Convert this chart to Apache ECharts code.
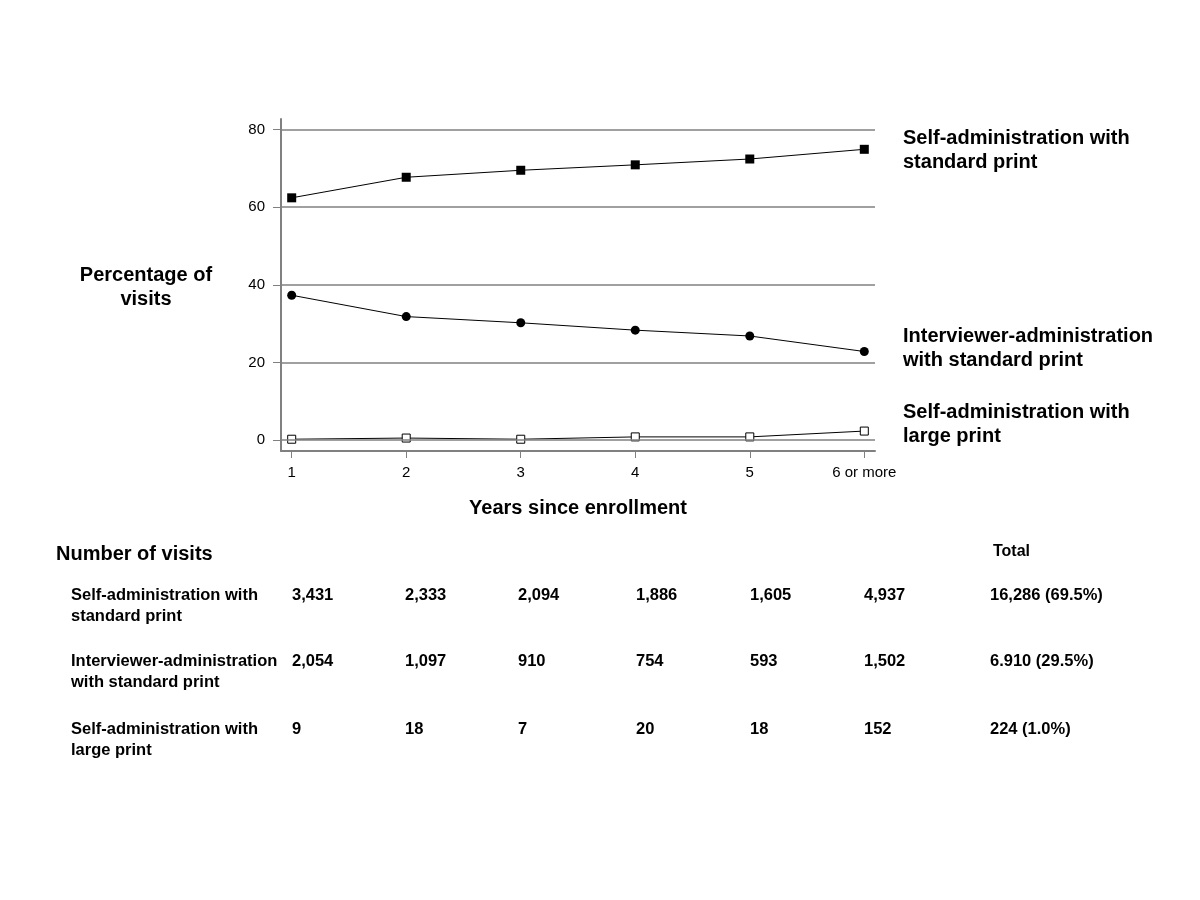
<!DOCTYPE html>
<html>
<head>
<meta charset="utf-8">
<script src="https://cdn.jsdelivr.net/npm/echarts@6/dist/echarts.min.js"></script>
<style>html,body{margin:0;padding:0;background:#fff;}#c{width:1200px;height:900px;}</style>
</head>
<body>
<div id="c"></div>
<script>
var years = [1, 2, 3, 4, 5, 6];
var yearLabels = ['1', '2', '3', '4', '5', '6 or more'];
var yTicks = [0, 20, 40, 60, 80];
var selfStd = [62.4, 67.7, 69.5, 70.9, 72.4, 74.9];
var interStd = [37.3, 31.8, 30.2, 28.3, 26.8, 22.8];
var selfLarge = [0.2, 0.5, 0.2, 0.8, 0.8, 2.3];
var seriesNames = ['Self-administration with\nstandard print', 'Interviewer-administration\nwith standard print', 'Self-administration with\nlarge print'];
var rowLabels = ['Self-administration with\nstandard print', 'Interviewer-administration\nwith standard print', 'Self-administration with\nlarge print'];
var countsSelfStd = ['3,431', '2,333', '2,094', '1,886', '1,605', '4,937'];
var countsInterStd = ['2,054', '1,097', '910', '754', '593', '1,502'];
var countsSelfLarge = ['9', '18', '7', '20', '18', '152'];
var totals = ['16,286 (69.5%)', '6.910 (29.5%)', '224 (1.0%)'];

var FONT = "'Liberation Sans', Arial, sans-serif";
var chart = echarts.init(document.getElementById('c'));

function pairs(vals) { return years.map(function (x, i) { return [x, vals[i]]; }); }

var graphics = [];
function txt(x, y, s, size, opts) {
  opts = opts || {};
  graphics.push({
    type: 'text', x: x, y: y,
    style: {
      text: s, fill: '#000', fontFamily: FONT, fontWeight: 'bold', fontSize: size,
      lineHeight: opts.lh || Math.round(size * 1.4), align: opts.align || 'left', verticalAlign: 'top'
    }
  });
}
// y-axis title
txt(146, 263, 'Percentage of\nvisits', 20, { lh: 24, align: 'center' });
// right-side labels
txt(903, 126, seriesNames[0], 20, { lh: 24 });
txt(903, 324, seriesNames[1], 20, { lh: 24 });
txt(903, 400, seriesNames[2], 20, { lh: 24 });
// table
txt(56, 541, 'Number of visits', 20, { lh: 26 });
txt(993, 542, 'Total', 16, { lh: 20 });
var rows = [countsSelfStd, countsInterStd, countsSelfLarge];
var rowTops = [585, 651, 719];
var colX = [292, 405, 518, 636, 750, 864];
rows.forEach(function (r, ri) {
  txt(71, rowTops[ri], rowLabels[ri], 16.5, { lh: 21 });
  r.forEach(function (v, ci) { txt(colX[ci], rowTops[ri], v, 16.5, { lh: 21 }); });
  txt(990, rowTops[ri], totals[ri], 16.5, { lh: 21 });
});

var gridLines = yTicks.map(function (v) { return { yAxis: v }; });

chart.setOption({
  backgroundColor: '#fff',
  animation: false,
  grid: { left: 281, right: 325, top: 119, bottom: 449, containLabel: false },
  xAxis: {
    type: 'value', min: 0.9066, max: 6.0934,
    name: 'Years since enrollment', nameLocation: 'middle', nameGap: 47,
    nameTextStyle: { fontFamily: FONT, fontWeight: 'bold', fontSize: 20, color: '#000' },
    axisLine: { show: true, onZero: false, lineStyle: { color: '#808080', width: 2 } },
    axisTick: { show: true, length: 7, lineStyle: { color: '#808080', width: 1 }, customValues: years },
    axisLabel: {
      customValues: years, color: '#000', fontFamily: FONT, fontSize: 15, margin: 14,
      formatter: function (v) { return yearLabels[years.indexOf(Math.round(v))] || ''; }
    },
    splitLine: { show: false }
  },
  yAxis: {
    type: 'value', min: -2.834, max: 82.71,
    axisLine: { show: true, onZero: false, lineStyle: { color: '#808080', width: 2 } },
    axisTick: { show: true, length: 8, lineStyle: { color: '#808080', width: 1 }, customValues: yTicks },
    axisLabel: { customValues: yTicks, color: '#000', fontFamily: FONT, fontSize: 15, margin: 16 },
    splitLine: { show: false }
  },
  series: [
    {
      type: 'line', data: pairs(selfStd), symbol: 'rect', symbolSize: 9,
      lineStyle: { color: '#000', width: 1 }, itemStyle: { color: '#000' },
      markLine: {
        silent: true, symbol: 'none', label: { show: false },
        lineStyle: { color: '#808080', width: 1.5, type: 'solid' },
        data: gridLines
      }
    },
    {
      type: 'line', data: pairs(interStd), symbol: 'circle', symbolSize: 9,
      lineStyle: { color: '#000', width: 1 }, itemStyle: { color: '#000' }
    },
    {
      type: 'line', data: pairs(selfLarge), symbol: 'rect', symbolSize: 8,
      lineStyle: { color: '#000', width: 1 }, itemStyle: { color: '#fff', borderColor: '#000', borderWidth: 1 }
    }
  ],
  graphic: graphics
});
</script>
</body>
</html>
